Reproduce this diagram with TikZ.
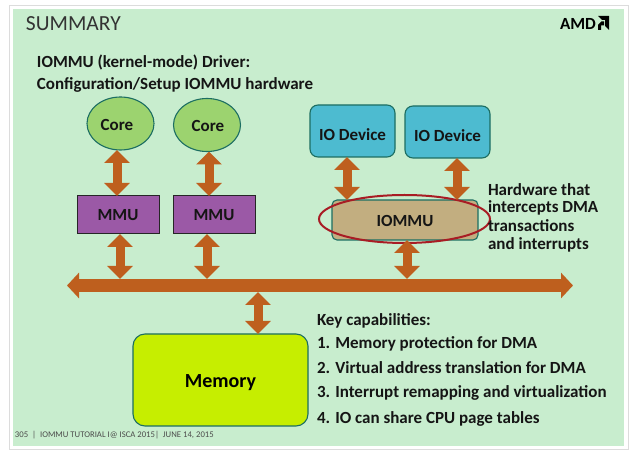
\documentclass[tikz,border=0pt]{standalone}
\usepackage{fontspec}
\setmainfont{Carlito}
\usetikzlibrary{arrows.meta,shapes.geometric,calc}
\definecolor{bgreen}{HTML}{C8EDCE}
\definecolor{framegray}{HTML}{DCDCDC}
\definecolor{corefill}{HTML}{9CD36F}
\definecolor{tealline}{HTML}{1C6E62}
\definecolor{mmufill}{HTML}{9B59A6}
\definecolor{iofill}{HTML}{4DBBD0}
\definecolor{iommufill}{HTML}{C2AE80}
\definecolor{redring}{HTML}{A81C24}
\definecolor{busorange}{HTML}{BE5F1E}
\definecolor{memfill}{HTML}{C6EE00}
\definecolor{inkk}{HTML}{151515}
\newcommand\lowerby[2]{\raisebox{-#1}[0pt][0pt]{#2}}
\tikzset{
  x=1pt,y=-1pt,
  every node/.style={inner sep=0pt,outer sep=0pt,text=inkk},
  corenode/.style={ellipse,draw=tealline,line width=1.1pt,fill=corefill,font=\fontsize{17}{20}\selectfont\bfseries},
  mmunode/.style={draw=black!85,line width=1pt,fill=mmufill,minimum width=82pt,minimum height=38pt,font=\fontsize{17}{20}\selectfont\bfseries},
  ionode/.style={draw=tealline,line width=1.1pt,fill=iofill,rounded corners=8pt,minimum width=85pt,minimum height=52pt,font=\fontsize{17}{20}\selectfont\bfseries},
  bidir/.style={draw=busorange,line width=9pt,{Triangle[width=25pt,length=13pt]}-{Triangle[width=25pt,length=13pt]}},
  busline/.style={draw=busorange,line width=13pt,{Triangle[width=25pt,length=12pt]}-{Triangle[width=25pt,length=12pt]}},
  label/.style={anchor=west,font=\fontsize{17}{20}\selectfont\bfseries},
  heading/.style={anchor=west,font=\fontsize{17}{20}\selectfont\bfseries},
}
\begin{document}
\begin{tikzpicture}
\useasboundingbox (0,0) rectangle (633,454);
\fill[white] (0,0) rectangle (633,454);
\draw[framegray,line width=1pt] (9.5,5.5) rectangle (628,449.5);
\fill[bgreen] (13,9) rectangle (624,446);

\node[anchor=west,font=\fontsize{21.5}{25}\selectfont,text=black!80] (title) at (26,23.5) {SUMMARY};
\node[heading] (h1) at (37,62) {IOMMU (kernel-mode) Driver:};
\node[heading] (h2) at (37,85) {Configuration/Setup IOMMU hardware};

% AMD logo
\node[anchor=west,font=\fontsize{17}{20}\selectfont\bfseries,text=black] (amd) at (560,23.5) {AMD};
\fill[black] (598,16) -- (609,16) -- (609,30) -- (605,26) -- (605,20) -- (602,20) -- cycle;
\fill[black] (598,25) -- (601.5,21.5) -- (604,21.5) -- (604,25.5) -- (601,25.5) -- (601,30) -- (598,30) -- cycle;

% bus
\node[minimum width=506pt,minimum height=13pt] (bus) at (320,285.5) {};

% nodes
\node[corenode,minimum width=67pt,minimum height=53pt] (core1) at (120.5,123.5) {\hspace*{-7pt}\lowerby{7pt}{Core}};
\node[corenode,minimum width=67pt,minimum height=53pt] (core2) at (207,125) {\hspace*{2pt}\lowerby{6.5pt}{Core}};
\node[mmunode] (mmu1) at (118,215) {\lowerby{5.5pt}{MMU}};
\node[mmunode] (mmu2) at (214,215) {\lowerby{5.5pt}{MMU}};
\node[ionode] (io1) at (352.5,131) {\lowerby{9.5pt}{IO Device}};
\node[ionode] (io2) at (447.5,132) {\lowerby{9.5pt}{IO Device}};
\node[draw=tealline,line width=1.1pt,fill=iommufill,rounded corners=5pt,minimum width=146pt,minimum height=40pt,font=\fontsize{17}{20}\selectfont\bfseries] (iommu) at (405,220) {\lowerby{6.5pt}{IOMMU}};
\node[ellipse,draw=redring,line width=2pt,minimum width=171pt,minimum height=48pt] (ring) at (404.5,219) {};
\node[draw=tealline,line width=1.1pt,fill=memfill,rounded corners=12pt,minimum width=175pt,minimum height=92pt,font=\fontsize{20}{24}\selectfont\bfseries,text=black] (mem) at (220.5,380) {\lowerby{7.5pt}{Memory}};

% connectors
\coordinate (a1) at (117,0);
\coordinate (a2) at (209,0);
\coordinate (a3) at (120,0);
\coordinate (a4) at (207,0);
\coordinate (a5) at (347,0);
\coordinate (a6) at (457,0);
\coordinate (a7) at (407,0);
\coordinate (a8) at (258,0);
\draw[busline] (bus.west) -- (bus.east);
\draw[bidir] (a1 |- core1.south) -- (a1 |- mmu1.north);
\draw[bidir] (a2 |- core2.south) -- (a2 |- mmu2.north);
\draw[bidir] (a3 |- mmu1.south) -- (a3 |- bus.north);
\draw[bidir] (a4 |- mmu2.south) -- (a4 |- bus.north);
\draw[bidir] (a5 |- io1.south) -- (a5 |- iommu.north);
\draw[bidir] (a6 |- io2.south) -- (a6 |- iommu.north);
\draw[bidir] (a7 |- iommu.south) -- (a7 |- bus.north);
\draw[bidir] (a8 |- bus.south) -- (a8 |- mem.north);

% side text
\node[label] (t1) at (488,189.5) {Hardware that};
\node[label] (t2) at (488,207.5) {intercepts DMA};
\node[label] (t3) at (488,225.5) {transactions};
\node[label] (t4) at (488,244.5) {and interrupts};

\node[label] (k0) at (317,321) {Key capabilities:};
\node[label] (k1) at (317,344) {1. Memory protection for DMA};
\node[label] (k2) at (317,368) {2. Virtual address translation for DMA};
\node[label] (k3) at (317,393) {3. Interrupt remapping and virtualization};
\node[label] (k4) at (317,419) {4. IO can share CPU page tables};

\node[anchor=west,font=\fontsize{8.7}{10}\selectfont,text=black!70] (foot) at (15,435) {305\ \ |\ \ IOMMU TUTORIAL I@ ISCA 2015|\ \ JUNE 14, 2015};
\end{tikzpicture}
\end{document}
